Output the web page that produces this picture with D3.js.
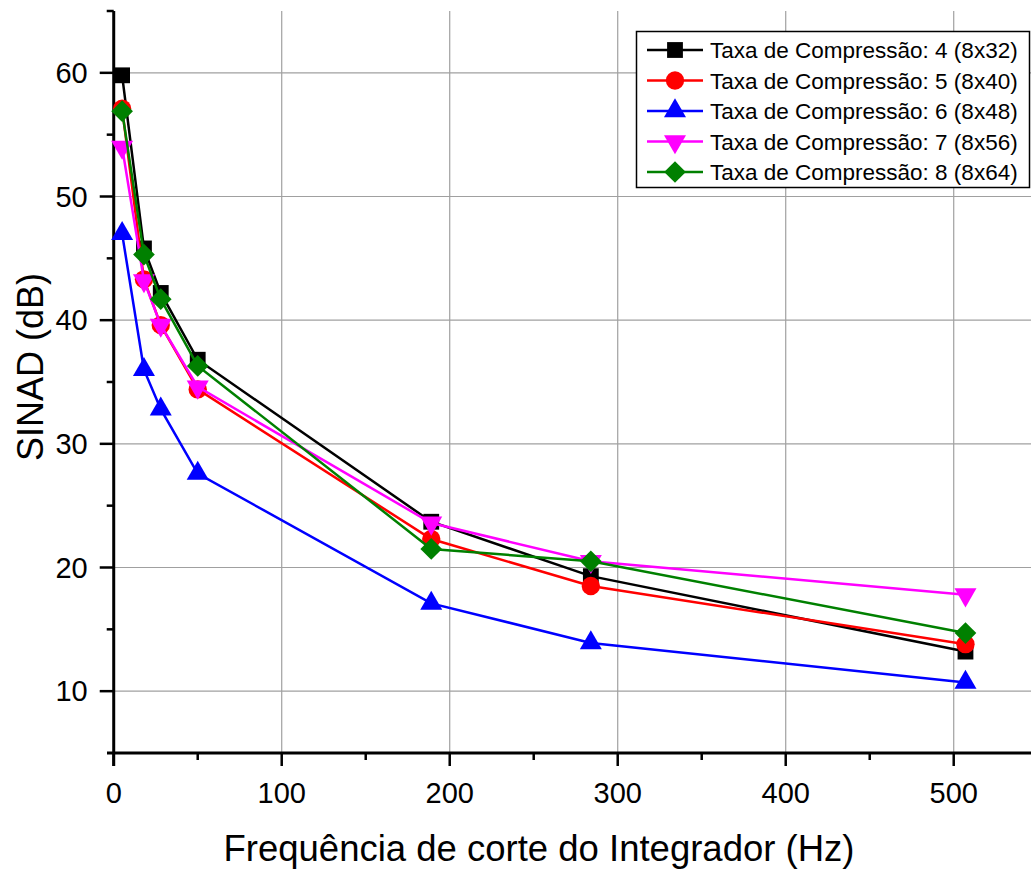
<!DOCTYPE html>
<html>
<head>
<meta charset="utf-8">
<script src="https://cdn.jsdelivr.net/npm/d3@7"></script>
<style>
  body { margin: 0; background: #fff; }
  text { font-family: "Liberation Sans", Arial, sans-serif; }
</style>
</head>
<body>
<div id="chart"></div>
<script>
// cut-off frequencies (Hz)
const freqs = [5, 18, 28, 50, 189, 284, 507];

// SINAD (dB) per compression rate
const sinad4 = [59.8, 45.8, 42.2, 36.8, 23.7, 19.3, 13.2];
const sinad5 = [57.1, 43.3, 39.6, 34.4, 22.3, 18.5, 13.8];
const sinad6 = [47.0, 36.0, 32.8, 27.6, 17.1, 13.9, 10.7];
const sinad7 = [54.0, 43.2, 39.6, 34.6, 23.6, 20.5, 17.8];
const sinad8 = [56.9, 45.3, 41.7, 36.3, 21.5, 20.5, 14.7];

const seriesNames = [
  "Taxa de Compressão: 4 (8x32)",
  "Taxa de Compressão: 5 (8x40)",
  "Taxa de Compressão: 6 (8x48)",
  "Taxa de Compressão: 7 (8x56)",
  "Taxa de Compressão: 8 (8x64)"
];
const seriesColors = ["#000000", "#ff0000", "#0000ff", "#ff00ff", "#008000"];
const seriesSymbols = ["square", "circle", "up", "down", "diamond"];

const xTicks = [0, 100, 200, 300, 400, 500];
const yTicks = [10, 20, 30, 40, 50, 60];

const width = 1031, height = 869;

const x = d3.scaleLinear().domain([-4, 546]).range([107, 1031]);
const y = d3.scaleLinear().domain([5, 65]).range([753, 11]);

const svg = d3.select("#chart").append("svg")
    .attr("width", width)
    .attr("height", height);

// grid
svg.append("g")
  .selectAll("line")
  .data(xTicks.filter(d => d > 0))
  .enter().append("line")
    .attr("x1", d => x(d)).attr("x2", d => x(d))
    .attr("y1", y(65)).attr("y2", y(5))
    .attr("stroke", "#a0a0a0").attr("stroke-width", 1.2);
svg.append("g")
  .selectAll("line")
  .data(yTicks)
  .enter().append("line")
    .attr("x1", x(-4)).attr("x2", x(546))
    .attr("y1", d => y(d)).attr("y2", d => y(d))
    .attr("stroke", "#a0a0a0").attr("stroke-width", 1.2);

// x axis
const xAxis = svg.append("g").attr("transform", `translate(0,${y(5)})`);
xAxis.append("line")
  .attr("x1", x(-4)).attr("x2", x(546))
  .attr("stroke", "#000").attr("stroke-width", 3);
xAxis.selectAll(".minor")
  .data(d3.range(50, 550, 100))
  .enter().append("line")
    .attr("x1", d => x(d)).attr("x2", d => x(d))
    .attr("y1", 0).attr("y2", 7)
    .attr("stroke", "#000").attr("stroke-width", 2.5);
xAxis.selectAll(".major")
  .data(xTicks)
  .enter().append("line")
    .attr("x1", d => x(d)).attr("x2", d => x(d))
    .attr("y1", 0).attr("y2", 13)
    .attr("stroke", "#000").attr("stroke-width", 2.5);
xAxis.selectAll("text")
  .data(xTicks)
  .enter().append("text")
    .attr("x", d => x(d))
    .attr("y", 50)
    .attr("text-anchor", "middle")
    .attr("font-size", 29)
    .text(d => d);

// y axis (sits at x = 0)
const yAxis = svg.append("g").attr("transform", `translate(${x(0)},0)`);
yAxis.append("line")
  .attr("y1", y(65)).attr("y2", y(5) + 13)
  .attr("stroke", "#000").attr("stroke-width", 3);
yAxis.selectAll(".minor")
  .data(d3.range(15, 70, 10))
  .enter().append("line")
    .attr("y1", d => y(d)).attr("y2", d => y(d))
    .attr("x1", 0).attr("x2", -7)
    .attr("stroke", "#000").attr("stroke-width", 2.5);
yAxis.selectAll(".major")
  .data(yTicks)
  .enter().append("line")
    .attr("y1", d => y(d)).attr("y2", d => y(d))
    .attr("x1", 0).attr("x2", -14)
    .attr("stroke", "#000").attr("stroke-width", 2.5);
yAxis.selectAll("text")
  .data(yTicks)
  .enter().append("text")
    .attr("x", -26)
    .attr("y", d => y(d) + 10)
    .attr("text-anchor", "end")
    .attr("font-size", 29)
    .text(d => d);

// axis titles
svg.append("text")
  .attr("x", 539).attr("y", 861)
  .attr("text-anchor", "middle")
  .attr("font-size", 36.5)
  .text("Frequência de corte do Integrador (Hz)");
svg.append("text")
  .attr("transform", `translate(43,367) rotate(-90)`)
  .attr("text-anchor", "middle")
  .attr("font-size", 36)
  .text("SINAD (dB)");

function markerPath(sym) {
  if (sym === "square") return d3.symbol().type(d3.symbolSquare).size(250)();
  if (sym === "circle") return d3.symbol().type(d3.symbolCircle).size(265)();
  if (sym === "diamond") return d3.symbol().type(d3.symbolSquare).size(235)();
  return d3.symbol().type(d3.symbolTriangle).size(210)();
}
function markerTransform(sym, px, py) {
  if (sym === "down") return `translate(${px},${py}) rotate(180)`;
  if (sym === "diamond") return `translate(${px},${py}) rotate(45)`;
  return `translate(${px},${py})`;
}

const allSeries = [sinad4, sinad5, sinad6, sinad7, sinad8];
const line = d3.line().x(d => x(d[0])).y(d => y(d[1]));

allSeries.forEach((vals, i) => {
  const pts = freqs.map((f, j) => [f, vals[j]]);
  const g = svg.append("g");
  g.append("path")
    .attr("d", line(pts))
    .attr("fill", "none")
    .attr("stroke", seriesColors[i])
    .attr("stroke-width", 2.5);
  g.selectAll("path.m")
    .data(pts)
    .enter().append("path")
      .attr("class", "m")
      .attr("d", markerPath(seriesSymbols[i]))
      .attr("transform", d => markerTransform(seriesSymbols[i], x(d[0]), y(d[1])))
      .attr("fill", seriesColors[i]);
});

// legend
const legend = svg.append("g");
legend.append("rect")
  .attr("x", 636.5).attr("y", 31.5)
  .attr("width", 393).attr("height", 156)
  .attr("fill", "#fff")
  .attr("stroke", "#000").attr("stroke-width", 1.5);
seriesNames.forEach((name, i) => {
  const cy = 50 + i * 30.5;
  legend.append("line")
    .attr("x1", 647).attr("x2", 703)
    .attr("y1", cy).attr("y2", cy)
    .attr("stroke", seriesColors[i]).attr("stroke-width", 2.5);
  legend.append("path")
    .attr("d", markerPath(seriesSymbols[i]))
    .attr("transform", markerTransform(seriesSymbols[i], 675, cy))
    .attr("fill", seriesColors[i]);
  legend.append("text")
    .attr("x", 710).attr("y", cy + 8)
    .attr("font-size", 22.5)
    .text(name);
});
</script>
</body>
</html>
